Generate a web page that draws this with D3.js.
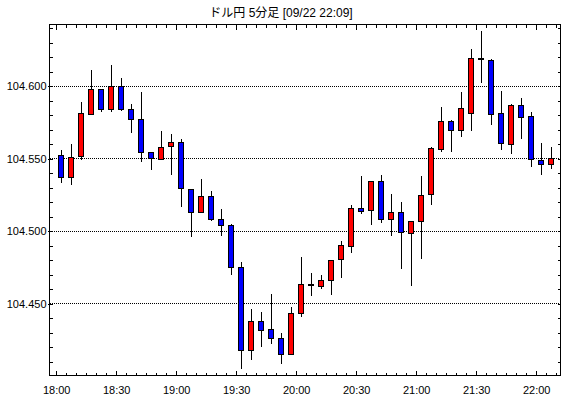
<!DOCTYPE html>
<html>
<head>
<meta charset="utf-8">
<script src="https://cdn.jsdelivr.net/npm/d3@7"></script>
<style>
  body { margin: 0; background: #fff; }
  svg { display: block; }
  .axis text { font-family: "Liberation Sans", Arial, sans-serif; font-size: 11px; fill: #000; }
  .axis line { stroke: #000; }
</style>
</head>
<body>
<div id="chart"></div>
<script>
// 5-minute bars, 18:00 .. 22:05
var times = ["18:00","18:05","18:10","18:15","18:20","18:25","18:30","18:35","18:40","18:45",
             "18:50","18:55","19:00","19:05","19:10","19:15","19:20","19:25","19:30","19:35",
             "19:40","19:45","19:50","19:55","20:00","20:05","20:10","20:15","20:20","20:25",
             "20:30","20:35","20:40","20:45","20:50","20:55","21:00","21:05","21:10","21:15",
             "21:20","21:25","21:30","21:35","21:40","21:45","21:50","21:55","22:00","22:05"];

var openVals  = [104.552,104.537,104.551,104.581,104.598,104.584,104.600,104.584,104.577,104.554,
                 104.550,104.558,104.561,104.529,104.513,104.524,104.508,104.504,104.475,104.418,
                 104.438,104.432,104.426,104.415,104.443,104.463,104.462,104.466,104.480,104.490,
                 104.516,104.514,104.534,104.508,104.513,104.499,104.507,104.525,104.557,104.576,
                 104.570,104.581,104.619,104.618,104.581,104.560,104.587,104.579,104.549,104.546];
var highVals  = [104.556,104.560,104.589,104.611,104.598,104.615,104.606,104.588,104.596,104.555,
                 104.569,104.567,104.564,104.529,104.536,104.528,104.515,104.505,104.479,104.446,
                 104.444,104.457,104.430,104.448,104.482,104.471,104.470,104.480,104.493,104.518,
                 104.538,104.534,104.539,104.526,104.520,104.507,104.538,104.558,104.586,104.577,
                 104.596,104.626,104.638,104.619,104.597,104.588,104.592,104.582,104.561,104.558];
var lowVals   = [104.533,104.532,104.549,104.581,104.582,104.582,104.583,104.568,104.548,104.542,
                 104.550,104.539,104.517,104.496,104.513,104.507,104.497,104.470,104.405,104.411,
                 104.420,104.422,104.408,104.415,104.441,104.455,104.460,104.456,104.468,104.485,
                 104.512,104.504,104.506,104.497,104.474,104.462,104.481,104.518,104.555,104.555,
                 104.565,104.569,104.602,104.573,104.556,104.553,104.564,104.544,104.539,104.543];
var closeVals = [104.537,104.551,104.581,104.598,104.584,104.600,104.584,104.577,104.554,104.550,
                 104.558,104.561,104.529,104.513,104.524,104.508,104.504,104.475,104.418,104.438,
                 104.432,104.426,104.415,104.443,104.463,104.462,104.466,104.480,104.490,104.516,
                 104.514,104.534,104.508,104.513,104.499,104.507,104.525,104.557,104.576,104.570,
                 104.585,104.619,104.618,104.581,104.560,104.587,104.579,104.549,104.546,104.550];

var gridValues = [104.450, 104.500, 104.550, 104.600];
var titleText = "ドル円 5分足 [09/22 22:09]";

var width = 570, height = 398;
var plotL = 49.5, plotR = 560.5, plotT = 24.5, plotB = 375.5;

var parse = d3.timeParse("%Y-%m-%d %H:%M");
var bars = times.map(function(t, i) {
  return {t: parse("2020-09-22 " + t), o: openVals[i], h: highVals[i], l: lowVals[i], c: closeVals[i]};
});

var svg = d3.select("#chart")
  .append("svg")
    .attr("width", width)
    .attr("height", height);

var x = d3.scaleTime()
    .domain([new Date(2020, 8, 22, 17, 56, 39), new Date(2020, 8, 22, 22, 12, 9)])
    .range([plotL, plotR]);

var y = d3.scaleLinear()
    .domain([104.4004, 104.6427])
    .range([plotB, plotT]);

var crisp = function(v) { return Math.round(v - 0.5) + 0.5; };

// dotted grid lines
svg.append("g")
  .selectAll("line")
  .data(gridValues)
  .enter()
  .append("line")
    .attr("x1", plotL + 0.5).attr("x2", plotR)
    .attr("y1", d => crisp(y(d))).attr("y2", d => crisp(y(d)))
    .attr("stroke", "#000")
    .attr("stroke-dasharray", "1,1")
    .attr("shape-rendering", "crispEdges");

// ticks
var minorY = d3.range(41, 65).map(d => 104 + d / 100);
var fiveMin = d3.timeMinute.every(5).range(parse("2020-09-22 18:00"), parse("2020-09-22 22:11"));
var halfHour = d3.timeMinute.every(30).range(parse("2020-09-22 18:00"), parse("2020-09-22 22:11"));

function clean(g) { g.select(".domain").remove(); }

svg.append("g").attr("class", "axis")
  .attr("transform", "translate(" + plotL + ",0)")
  .call(d3.axisLeft(y).tickValues(minorY).tickSize(-3).tickFormat(""))
  .call(clean);
svg.append("g").attr("class", "axis")
  .attr("transform", "translate(" + plotL + ",0)")
  .call(d3.axisLeft(y).tickValues(gridValues).tickSize(2).tickPadding(1).tickFormat(d3.format(".3f")))
  .call(clean);
svg.append("g").attr("class", "axis")
  .attr("transform", "translate(" + plotR + ",0)")
  .call(d3.axisRight(y).tickValues(minorY).tickSize(-3).tickFormat(""))
  .call(clean);

svg.append("g").attr("class", "axis")
  .attr("transform", "translate(0," + plotB + ")")
  .call(d3.axisBottom(x).tickValues(fiveMin).tickSize(-3).tickFormat(""))
  .call(clean);
svg.append("g").attr("class", "axis")
  .attr("transform", "translate(0," + plotB + ")")
  .call(d3.axisBottom(x).tickValues(halfHour).tickSize(-5).tickPadding(11).tickFormat(d3.timeFormat("%H:%M")))
  .call(clean);
svg.append("g").attr("class", "axis")
  .attr("transform", "translate(0," + plotT + ")")
  .call(d3.axisTop(x).tickValues(fiveMin).tickSize(-3).tickFormat(""))
  .call(clean);
svg.append("g").attr("class", "axis")
  .attr("transform", "translate(0," + plotT + ")")
  .call(d3.axisTop(x).tickValues(halfHour).tickSize(-5).tickFormat(""))
  .call(clean);

svg.selectAll(".axis .tick line").attr("shape-rendering", "crispEdges");

// candles
var cx = d => x(d3.timeSecond.offset(d.t, 150));

var candle = svg.append("g")
  .selectAll("g")
  .data(bars)
  .enter()
  .append("g");

candle.append("line")
    .attr("x1", d => Math.floor(cx(d)) + 0.5)
    .attr("x2", d => Math.floor(cx(d)) + 0.5)
    .attr("y1", d => Math.round(y(d.h)))
    .attr("y2", d => Math.round(y(d.l)))
    .attr("stroke", "#000")
    .attr("stroke-width", 1)
    .attr("shape-rendering", "crispEdges");

candle.append("rect")
    .attr("x", d => Math.floor(cx(d) - 3) + 0.5)
    .attr("width", 5)
    .attr("y", d => crisp(y(Math.max(d.o, d.c))))
    .attr("height", d => Math.max(1, Math.round(Math.abs(y(d.o) - y(d.c)))))
    .attr("fill", d => d.c >= d.o ? "#ff0000" : "#0000ff")
    .attr("stroke", "#000")
    .attr("stroke-width", 1)
    .attr("shape-rendering", "crispEdges");

// frame
svg.append("rect")
    .attr("x", plotL).attr("y", plotT)
    .attr("width", plotR - plotL).attr("height", plotB - plotT)
    .attr("fill", "none")
    .attr("stroke", "#000")
    .attr("shape-rendering", "crispEdges");

svg.append("text")
    .attr("x", 281)
    .attr("y", 17)
    .attr("text-anchor", "middle")
    .style("font-family", "'Liberation Sans', 'Noto Sans CJK JP', sans-serif")
    .style("font-size", "12px")
    .text(titleText);
</script>
</body>
</html>
